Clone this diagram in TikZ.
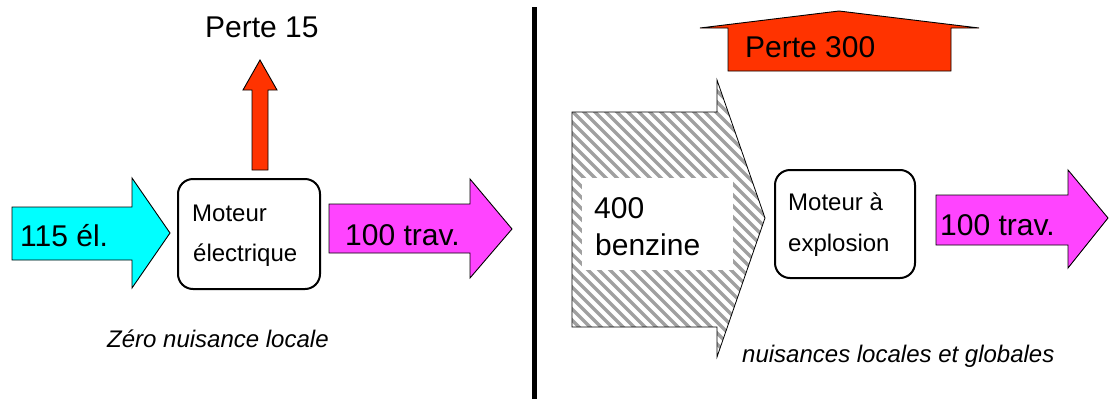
\documentclass[tikz,border=0pt]{standalone}
\usepackage{fontspec}
\setmainfont{Liberation Sans}
\definecolor{cyanfill}{HTML}{00FFFF}
\definecolor{magfill}{HTML}{FF44FF}
\definecolor{redfill}{HTML}{FF3300}
\definecolor{hatchgrey}{HTML}{A0A0A0}
\begin{document}
\begin{tikzpicture}[x=1pt,y=-1pt,
  blockarrow/.style={draw=black,line width=0.9pt,line join=miter},
  motorbox/.style={draw=black,line width=2pt,rounded corners=15pt,fill=white},
  bigtxt/.style={inner sep=0pt,anchor=base west,font=\fontsize{30}{36}\selectfont},
  smalltxt/.style={inner sep=0pt,anchor=base west,font=\fontsize{24}{29}\selectfont},
  itxt/.style={inner sep=0pt,anchor=base west,font=\fontsize{24}{29}\selectfont\itshape},
  hatchline/.style={draw=hatchgrey,line width=3.3pt}]
\useasboundingbox (0,0) rectangle (1113,399);

% ---------- left side ----------
\filldraw[blockarrow,fill=cyanfill] (12,207) -- (132,207) -- (132,178) -- (170,233) -- (132,288) -- (132,260) -- (12,260) -- cycle;
\node[bigtxt] (inel) at (20,246) {115 él.};

\draw[motorbox] (178,179) rectangle (320,289);
\node[smalltxt] (motA1) at (192,221) {Moteur};
\node[smalltxt] (motA2) at (193,261) {électrique};

\filldraw[blockarrow,fill=redfill] (252,170) -- (252,90) -- (243,90) -- (260,60) -- (277,90) -- (268,90) -- (268,170) -- cycle;
\node[bigtxt] (perteA) at (205,37) {Perte 15};

\filldraw[blockarrow,fill=magfill] (329,204) -- (470,204) -- (470,179) -- (512,229) -- (470,278) -- (470,253) -- (329,253) -- cycle;
\node[bigtxt] (travA) at (345,245) {100 trav.};

\node[itxt] (nuisA) at (107,347) {Zéro nuisance locale};

% ---------- divider ----------
\draw[line width=5pt] (534.5,7) -- (534.5,399);

% ---------- right side ----------
\begin{scope}
\clip (572,112) -- (717,112) -- (717,80) -- (765,218) -- (717,357) -- (717,327) -- (572,327) -- cycle;
\foreach \k in {0,...,70}
  \draw[hatchline] (\k*11+290,60) -- ++(320,320);
\end{scope}
\fill[white] (582,178) rectangle (733,270);
\draw[blockarrow,line width=0.8pt] (572,112) -- (717,112) -- (717,80) -- (765,218) -- (717,357) -- (717,327) -- (572,327) -- cycle;
\node[bigtxt] (fuel1) at (594,218) {400};
\node[bigtxt] (fuel2) at (595,255) {benzine};

\filldraw[blockarrow,fill=redfill] (728,71) -- (728,28) -- (700,28) -- (839,11) -- (979,28) -- (951,28) -- (951,71) -- cycle;
\node[bigtxt] (perteB) at (745,57) {Perte 300};

\draw[motorbox] (775,170) rectangle (915,278);
\node[smalltxt] (motB1) at (788,210) {Moteur à};
\node[smalltxt] (motB2) at (788,251) {explosion};

\filldraw[blockarrow,fill=magfill] (936,195) -- (1068,195) -- (1068,170) -- (1108,218) -- (1068,268) -- (1068,245) -- (936,245) -- cycle;
\node[bigtxt] (travB) at (940,235) {100 trav.};

\node[itxt] (nuisB) at (742,362) {nuisances locales et globales};
\end{tikzpicture}
\end{document}
